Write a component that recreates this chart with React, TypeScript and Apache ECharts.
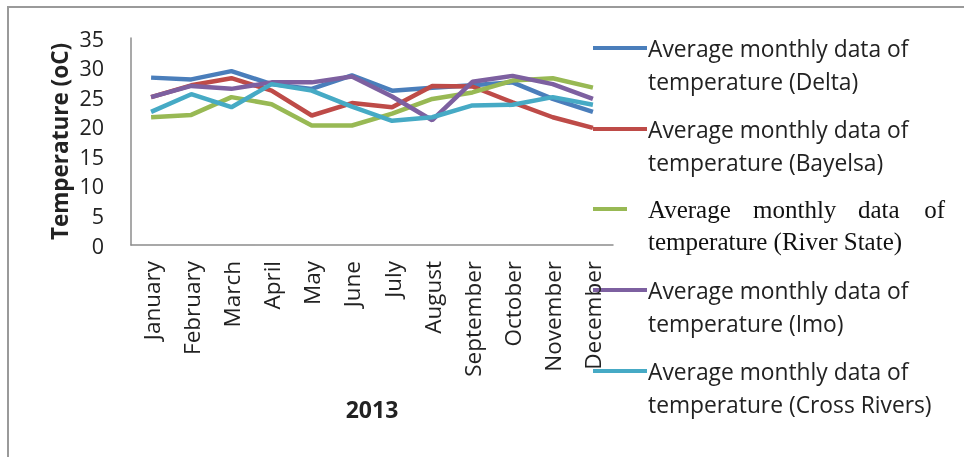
import { useEffect, useRef } from "react";
import * as echarts from "echarts";

const months = ["January", "February", "March", "April", "May", "June", "July", "August", "September", "October", "November", "December"];
const delta = [28.3, 28.0, 29.4, 27.2, 26.4, 28.7, 26.1, 26.6, 27.0, 27.5, 24.7, 22.5];
const bayelsa = [25.0, 27.0, 28.2, 26.1, 21.9, 24.0, 23.3, 26.9, 26.8, 24.1, 21.6, 19.8];
const riverState = [21.6, 22.0, 25.0, 23.8, 20.2, 20.2, 22.2, 24.7, 25.8, 27.8, 28.2, 26.6];
const imo = [25.0, 26.9, 26.4, 27.5, 27.5, 28.5, 25.1, 21.1, 27.6, 28.6, 27.2, 24.7];
const crossRivers = [22.5, 25.5, 23.3, 27.2, 26.1, 23.4, 21.0, 21.6, 23.6, 23.7, 25.0, 23.7];

const seriesNames = [
	"Average monthly data of temperature (Delta)",
	"Average monthly data of temperature (Bayelsa)",
	"Average monthly data of temperature (River State)",
	"Average monthly data of temperature (Imo)",
	"Average monthly data of temperature (Cross Rivers)",
];
const seriesColors = ["#4a7ebb", "#be4b48", "#98b954", "#7d60a0", "#46aac5"];
const legendTails = ["temperature (Delta)", "temperature (Bayelsa)", "temperature (River State)", "temperature (Imo)", "temperature (Cross Rivers)"];

const SANS = "'Open Sans', sans-serif";
const SERIF = "'Liberation Serif', serif";

export default function App() {
	const chartElementRef = useRef<HTMLDivElement | null>(null);

	useEffect(() => {
		if (!chartElementRef.current) return;
		const chart = echarts.init(chartElementRef.current, null, { renderer: "svg" });
		const allData = [delta, bayelsa, riverState, imo, crossRivers];

		// legend drawn by hand: line at the first text row, text in two rows
		const legendTop = [48, 129, 209, 290, 371];
		const legendGraphics: any[] = [];
		legendTop.forEach((y, i) => {
			const isSerif = i === 2;
			legendGraphics.push({
				type: "line",
				shape: { x1: 593, y1: y, x2: isSerif ? 627 : 647, y2: y },
				style: { stroke: seriesColors[i], lineWidth: 4 },
			});
			if (isSerif) {
				const words = [
					["Average", 648, "left"],
					["monthly", 753, "left"],
					["data", 858, "left"],
					["of", 945, "right"],
				];
				words.forEach(([w, x, align]) => {
					legendGraphics.push({
						type: "text",
						x: x as number,
						y,
						style: { text: w, fontFamily: SERIF, fontSize: 25, fill: "#111", textAlign: align, textVerticalAlign: "middle" },
					});
				});
			} else {
				legendGraphics.push({
					type: "text",
					x: 648,
					y,
					style: { text: "Average monthly data of", fontFamily: SANS, fontSize: 22.8, fill: "#222", textVerticalAlign: "middle" },
				});
			}
			legendGraphics.push({
				type: "text",
				x: 648,
				y: y + (isSerif ? 32 : 33),
				style: {
					text: legendTails[i],
					fontFamily: isSerif ? SERIF : SANS,
					fontSize: isSerif ? 25 : 22.8,
					fill: isSerif ? "#111" : "#222",
					textVerticalAlign: "middle",
				},
			});
		});

		chart.setOption({
			animation: false,
			textStyle: { fontFamily: SANS },
			grid: { left: 131, right: 351, top: 38, bottom: 212 },
			xAxis: {
				type: "category",
				data: months,
				boundaryGap: true,
				name: "2013",
				nameLocation: "middle",
				nameGap: 152,
				nameTextStyle: { fontSize: 23, fontWeight: "bold", color: "#222", fontFamily: SANS },
				axisLine: { lineStyle: { color: "#8c8c8c", width: 1.5 } },
				axisTick: { show: false },
				axisLabel: { rotate: 90, interval: 0, margin: 16, fontSize: 22.5, color: "#222", fontFamily: SANS },
			},
			yAxis: {
				type: "value",
				min: 0,
				max: 35,
				interval: 5,
				name: "Temperature (oC)",
				nameLocation: "middle",
				nameGap: 60,
				nameRotate: 90,
				nameTextStyle: { fontSize: 22.5, fontWeight: "bold", color: "#222", fontFamily: SANS },
				axisLine: { show: true, lineStyle: { color: "#8c8c8c", width: 1.5 } },
				axisTick: { show: false },
				splitLine: { show: false },
				axisLabel: { margin: 27, fontSize: 21.5, color: "#222", fontFamily: SANS },
			},
			series: seriesNames.map((name, i) => ({
				name,
				type: "line",
				data: allData[i],
				showSymbol: false,
				symbol: "none",
				lineStyle: { color: seriesColors[i], width: 4.5 },
				itemStyle: { color: seriesColors[i] },
			})),
			graphic: [
				{
					type: "rect",
					shape: { x: 8, y: 7, width: 1000, height: 500 },
					style: { fill: "none", stroke: "#9a9a9a", lineWidth: 2 },
					silent: true,
				},
				...legendGraphics,
			],
		});

		return () => {
			chart.dispose();
		};
	}, []);

	return <div ref={chartElementRef} style={{ position: "fixed", left: 0, top: 0, width: 964, height: 457 }} />;
}
